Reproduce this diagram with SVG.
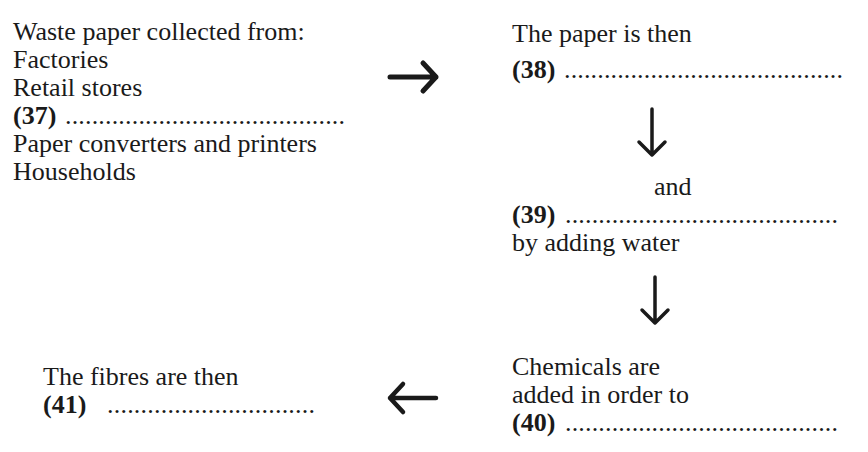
<svg xmlns="http://www.w3.org/2000/svg" width="868" height="452" viewBox="0 0 868 452">
<style>
text{font-family:"Liberation Serif","Times New Roman",serif;font-size:26px;fill:#1a1a1a}
.b{font-weight:bold}
.arr{fill:none;stroke:#1a1a1a;stroke-linecap:round;stroke-linejoin:round}
</style>
<rect width="868" height="452" fill="#fff"/>
<g id="node-collect">
<text x="13" y="40">Waste paper collected from:</text>
<text x="13" y="68">Factories</text>
<text x="13" y="96">Retail stores</text>
<text x="13" y="124" class="b">(37)</text>
<text x="65" y="124" textLength="280" lengthAdjust="spacing">..........................................</text>
<text x="13" y="152">Paper converters and printers</text>
<text x="13" y="180">Households</text>
</g>
<g id="node-38">
<text x="512" y="42">The paper is then</text>
<text x="512" y="78" class="b">(38)</text>
<text x="564" y="78" textLength="279" lengthAdjust="spacing">..........................................</text>
</g>
<g id="node-39">
<text x="654" y="195">and</text>
<text x="512" y="223" class="b">(39)</text>
<text x="565" y="223" textLength="273" lengthAdjust="spacing">.........................................</text>
<text x="512" y="251">by adding water</text>
</g>
<g id="node-40">
<text x="512" y="375">Chemicals are</text>
<text x="512" y="403">added in order to</text>
<text x="512" y="431" class="b">(40)</text>
<text x="565" y="431" textLength="273" lengthAdjust="spacing">.........................................</text>
</g>
<g id="node-41">
<text x="43" y="385">The fibres are then</text>
<text x="43" y="413" class="b">(41)</text>
<text x="107" y="413" textLength="208" lengthAdjust="spacing">...............................</text>
</g>
<g id="connectors">
<path class="arr" stroke-width="5" d="M390 77 H436 M423 63 L436 77 L423 91"/>
<path class="arr" stroke-width="3.5" d="M652 109 V155 M639 142 L652 155 L665 142"/>
<path class="arr" stroke-width="3.5" d="M655 277 V323 M642 310 L655 323 L668 310"/>
<path class="arr" stroke-width="4.5" d="M436 398 H390 M403 384 L390 398 L403 412"/>
</g>
</svg>
